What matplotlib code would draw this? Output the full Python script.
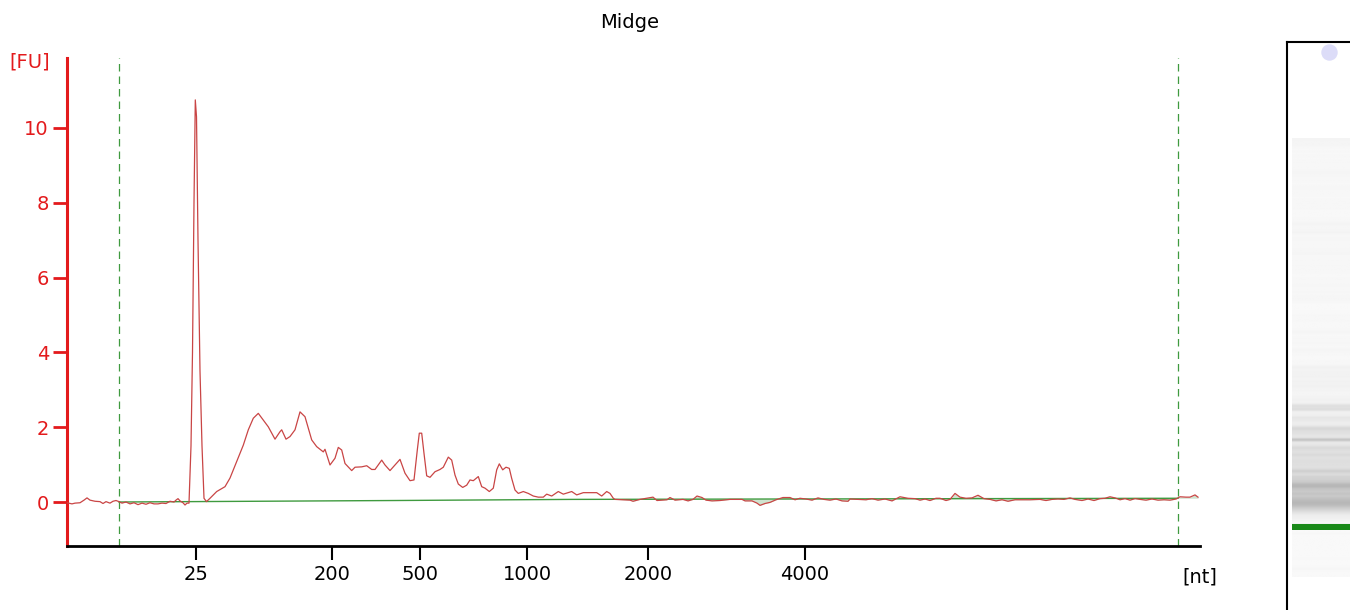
import numpy as np
import matplotlib
matplotlib.use("Agg")
import matplotlib.pyplot as plt

# ---------------- data ----------------
title = "Midge"
# migration position (arbitrary time units) and fluorescence [FU]
trace_t = [67, 72, 75, 80, 84, 87, 90, 95, 100, 103, 106, 110, 113, 116, 119, 122, 126, 130,
           134, 138, 142, 146, 150, 154, 158, 162, 166, 170, 174, 176, 178, 180, 183, 185,
           187, 189, 191, 192.5, 194, 195.3, 196.5, 198, 200, 202, 204, 206.5,
           210, 216.7, 225, 230, 236.7, 243.3, 248.3, 253.3, 258.3, 263.3, 268.3, 275, 280,
           281.7, 286, 290, 295, 300, 305, 311.7, 316.7, 323.3, 325, 330, 335, 338.3, 341.7,
           345, 351.7, 355, 361.7, 366.7, 371.7, 375, 381.7, 385, 390, 395, 400, 405, 410,
           414, 417.3, 419.3, 421.7, 424, 426.7, 430, 435, 440, 443.3, 448.3, 451.7, 455,
           458.3, 462.7, 466.7, 470, 473.3, 478.3, 481.7, 485, 489.3, 493.3, 496.7, 499.3,
           502.7, 506, 509.3, 511.7, 515, 518.3, 523.3, 528.3, 533.3, 538.3, 543.3, 546.7,
           551.7, 558.3, 563.3, 571.7, 576.7, 583.3, 596.7, 601.7, 606.7, 610, 613.3,
           615, 630, 633, 640, 653, 657, 667, 670, 675, 683, 688, 693, 697, 702, 706, 712,
           720, 730, 742, 745, 752, 757, 760, 765, 770, 776, 783, 790, 795, 800, 806, 812,
           818, 824, 830, 836, 842, 848, 850, 858, 866, 872, 878, 885, 892, 900, 908, 915,
           920, 925, 930, 936, 940, 946, 950, 955, 960, 966, 972, 978, 984, 990, 996, 1002,
           1008, 1015, 1022, 1030, 1040, 1046, 1052, 1058, 1064, 1070, 1075, 1082, 1088,
           1094, 1100, 1105, 1110, 1115, 1120, 1125, 1130, 1135, 1140, 1146, 1152, 1158,
           1164, 1170, 1176, 1180, 1186, 1190, 1195, 1198]
trace_fu = [-0.02, -0.05, -0.03, -0.02, 0.05, 0.11, 0.05, 0.02, 0.01, -0.04, 0.01, -0.03, 0.02,
            0.04, 0.01, -0.03, 0.0, -0.05, -0.02, -0.07, -0.03, -0.06, -0.02, -0.05, -0.05,
            -0.03, -0.04, 0.02, 0.0, 0.05, 0.09, 0.03, -0.02, -0.08, -0.03, -0.03,
            1.5, 4.0, 8.0, 10.75, 10.3, 7.0, 3.5, 1.5, 0.1, 0.01,
            0.1, 0.28, 0.41, 0.64, 1.08, 1.52, 1.93, 2.24, 2.37, 2.19, 2.01, 1.68, 1.88,
            1.93, 1.68, 1.75, 1.93, 2.41, 2.28, 1.66, 1.48, 1.34, 1.41, 0.99, 1.17, 1.46, 1.39,
            1.03, 0.84, 0.93, 0.94, 0.97, 0.87, 0.87, 1.12, 0.99, 0.84, 0.99, 1.14, 0.77, 0.57,
            0.59, 1.39, 1.84, 1.84, 1.30, 0.70, 0.66, 0.81, 0.87, 0.93, 1.20, 1.12, 0.72,
            0.48, 0.39, 0.45, 0.59, 0.57, 0.68, 0.41, 0.37, 0.28, 0.37, 0.86, 1.02,
            0.86, 0.93, 0.90, 0.63, 0.32, 0.23, 0.28, 0.23, 0.16, 0.13, 0.13, 0.21,
            0.16, 0.28, 0.21, 0.28, 0.19, 0.25, 0.25, 0.16, 0.28, 0.23, 0.10,
            0.07, 0.05, 0.02, 0.07, 0.13, 0.04, 0.06, 0.12, 0.05, 0.07, 0.03, 0.07, 0.16, 0.12,
            0.05, 0.03, 0.04, 0.07, 0.07, 0.03, 0.03, -0.03, -0.09, -0.04, -0.01, 0.06, 0.12,
            0.12, 0.06, 0.10, 0.08, 0.05, 0.11, 0.07, 0.05, 0.08, 0.03, 0.02, 0.08, 0.07,
            0.06, 0.09, 0.05, 0.08, 0.03, 0.14, 0.10, 0.09, 0.05, 0.08, 0.04, 0.10, 0.10,
            0.04, 0.07, 0.23, 0.13, 0.10, 0.11, 0.18, 0.09, 0.07, 0.03, 0.06, 0.02, 0.06,
            0.06, 0.06, 0.07, 0.04, 0.07, 0.08, 0.07, 0.11, 0.07, 0.04, 0.08, 0.04, 0.09,
            0.10, 0.14, 0.11, 0.06, 0.09, 0.05, 0.09, 0.07, 0.05, 0.08, 0.05, 0.06, 0.05,
            0.08, 0.14, 0.13, 0.13, 0.19, 0.13]
baseline_t = [119, 395, 572, 1178]
baseline_fu = [0.0, 0.04, 0.07, 0.10]
window_t = [119, 1178]          # dashed green analysis window
tick_t = [196, 332, 420, 527, 648, 805]
tick_labels = ["25", "200", "500", "1000", "2000", "4000"]
ytick_vals = [0, 2, 4, 6, 8, 10]
marker_t = 196                   # lower marker shown green in the gel

# ---------------- figure ----------------
W, H = 1350, 610
fig = plt.figure(figsize=(W / 100, H / 100), dpi=100)
plt.rcParams['font.family'] = ['DejaVu Sans']

ax = fig.add_axes([67 / W, 64 / H, (1200 - 67) / W, (546 - 58) / H])
ax.set_xlim(67, 1200)
ax.set_ylim(-1.176, 11.87)

red = '#e31a1c'
trace_col = '#c94545'
green = '#3f9a3f'

ax.plot(trace_t, trace_fu, color=trace_col, lw=0.9, zorder=3)
ax.plot(baseline_t, baseline_fu, color=green, lw=1.0, zorder=2)
tb = np.interp(trace_t, baseline_t, baseline_fu)
mask = (np.array(trace_t) >= 615)
ax.fill_between(trace_t, trace_fu, tb, where=mask, color='#cfe3cf', lw=0, zorder=1)
for wt in window_t:
    ax.axvline(wt, color=green, lw=0.9, dashes=(6, 4), zorder=1)

for s in ['top', 'right']:
    ax.spines[s].set_visible(False)
ax.spines['left'].set_color(red)
ax.spines['left'].set_linewidth(2.2)
ax.spines['bottom'].set_color('black')
ax.spines['bottom'].set_linewidth(2.0)

ax.set_yticks(ytick_vals)
ax.set_yticklabels([str(v) for v in ytick_vals])
ax.tick_params(axis='y', colors=red, length=10, width=2, labelsize=14, pad=3)
ax.set_xticks(tick_t)
ax.set_xticklabels(tick_labels)
ax.tick_params(axis='x', colors='black', length=10, width=1.5, labelsize=14, pad=4)

fig.text(30 / W, 1 - 62 / H, "[FU]", color=red, fontsize=14, ha='center', va='center')
fig.text(1200 / W, 1 - 577 / H, "[nt]", color='black', fontsize=14, ha='center', va='center')
fig.text(630 / W, 1 - 22 / H, title, color='black', fontsize=14, ha='center', va='center')

# ---------------- gel lane ----------------
g_left = 1287
gax = fig.add_axes([g_left / W, -0.02, (W - g_left) / W + 0.01, (H - 42) / H + 0.02])
slope = 0.388                   # gel px per trace unit
t_top = marker_t + (527 - 42) / slope
t_bot = marker_t - (H + 12 - 527) / slope
gax.set_ylim(t_bot, t_top)
gax.set_xlim(0, 1)
tt = np.linspace(min(trace_t), max(trace_t), 800)
vv = np.interp(tt, trace_t, trace_fu)
shade = np.clip(0.975 - 0.11 * np.clip(vv, 0, None), 0.55, 1)
img = np.repeat(shade[:, None], 2, axis=1)
gax.imshow(img, cmap='gray', vmin=0, vmax=1, aspect='auto', origin='lower',
           extent=[0.06, 1.0, tt[0], tt[-1]], interpolation='bilinear')
gax.axhspan(marker_t - 8, marker_t + 8, xmin=0.06, xmax=1.0, color='#1a8a1a', lw=0)
gax.scatter([0.55], [0.983], transform=gax.transAxes, s=140, color='#dcdcf8',
            marker='o', lw=0)
gax.set_xticks([]); gax.set_yticks([])
for s in ['bottom', 'right']:
    gax.spines[s].set_visible(False)
gax.spines['left'].set_linewidth(1.5)
gax.spines['top'].set_linewidth(1.5)

fig.savefig("out.png", dpi=100)
